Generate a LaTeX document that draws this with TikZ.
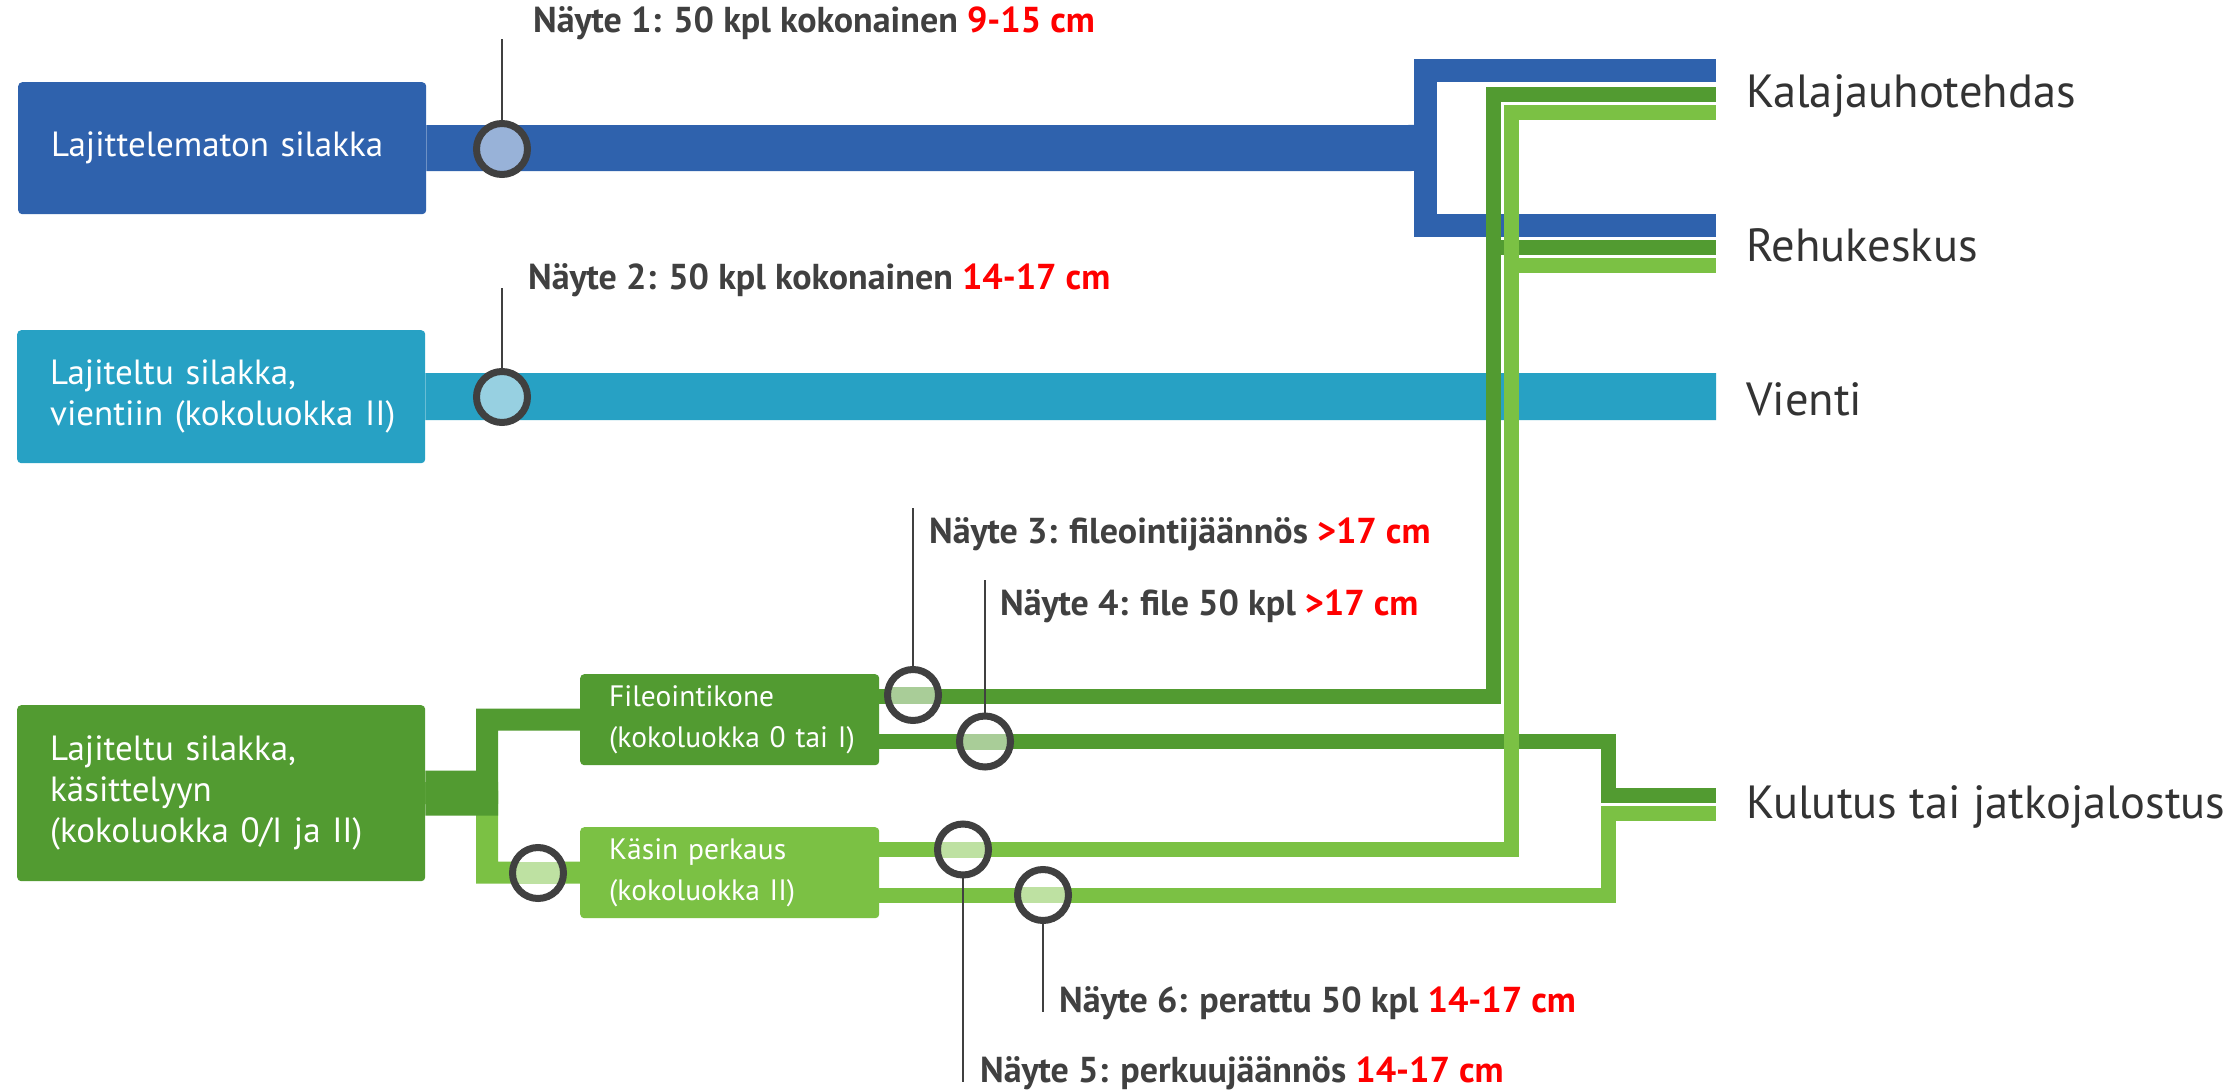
\documentclass[tikz,border=0pt]{standalone}
\usepackage{fontspec}
\setmainfont{PT Sans}
\usetikzlibrary{calc}
\definecolor{cblue}{HTML}{2F62AD}
\definecolor{cblueL}{HTML}{98B2D8}
\definecolor{cteal}{HTML}{27A1C4}
\definecolor{ctealL}{HTML}{97D0E1}
\definecolor{cdg}{HTML}{529B31}
\definecolor{cdgL}{HTML}{A9CD98}
\definecolor{clg}{HTML}{7BC144}
\definecolor{clgL}{HTML}{BEE1A2}
\definecolor{cring}{HTML}{404040}
\definecolor{ctxt}{HTML}{333333}
\definecolor{cred}{HTML}{FF0000}
\newcommand{\rd}[1]{\textcolor{cred}{#1}}
\begin{document}
\begin{tikzpicture}[x=1pt,y=-1pt,
  bigbox/.style={rounded corners=4pt, inner xsep=33pt, inner ysep=0pt, align=left,
    text=white, anchor=north west, text width=342pt, font=\fontsize{35}{41}\selectfont},
  smallbox/.style={rounded corners=4pt, inner xsep=29pt, inner ysep=0pt, align=left,
    text=white, anchor=north west, text width=241pt, font=\fontsize{29.5}{41}\selectfont},
  smp/.style={circle, draw=cring, line width=7pt, minimum size=51pt, inner sep=0pt},
  band/.style 2 args={fill=white, path picture={\fill[#1] ([yshift=-#2]path picture bounding box.west) rectangle ([yshift=#2]path picture bounding box.east);}},
  leader/.style={draw=cring, line width=2.5pt},
  lbl/.style={anchor=base west, inner sep=0pt, text=cring, font=\fontsize{36}{40}\selectfont\bfseries},
  dest/.style={anchor=base west, inner sep=0pt, text=ctxt, font=\fontsize{46.5}{50}\selectfont},
]
\useasboundingbox (0,0) rectangle (2240,1091);
\fill[white] (0,0) rectangle (2240,1091);

% boxes
\node[bigbox, fill=cblue, minimum height=132pt] (b1) at (18,82) {\mbox{Lajittelematon silakka}};
\node[bigbox, fill=cteal, minimum height=133pt] (b2) at (17,330) {\mbox{Lajiteltu silakka,}\\\mbox{vientiin (kokoluokka II)}};
\node[bigbox, fill=cdg, minimum height=176pt] (b3) at (17,705) {\mbox{Lajiteltu silakka,}\\\mbox{käsittelyyn}\\\mbox{(kokoluokka 0/I ja II)}};
\node[smallbox, fill=cdg, minimum height=91pt] (fil) at (580,674) {\mbox{Fileointikone}\\\mbox{(kokoluokka 0 tai I)}};
\node[smallbox, fill=clg, minimum height=91pt] (kas) at (580,827) {\mbox{Käsin perkaus}\\\mbox{(kokoluokka II)}};

% destinations
\node[dest] (kal) at (1746,108) {Kalajauhotehdas};
\node[dest] (reh) at (1746,262) {Rehukeskus};
\node[dest] (vie) at (1746,415) {Vienti};
\node[dest] (kul) at (1746,818) {Kulutus tai jatkojalostus};

% line end points and turn points
\coordinate (kalB) at (1716,71);
\coordinate (kalD) at (1716,94.5);
\coordinate (kalL) at (1716,112.5);
\coordinate (rehB) at (1716,225.5);
\coordinate (rehD) at (1716,247.5);
\coordinate (rehL) at (1716,265.5);
\coordinate (vieB) at (1716,396.5);
\coordinate (kulD) at (1716,795.5);
\coordinate (kulL) at (1716,813.5);
\coordinate (tF1) at (1493,696.5);
\coordinate (tF2) at (1608,741.5);
\coordinate (tL1) at (1511,849.5);
\coordinate (tL2) at (1608,895);
\coordinate (tS) at (487,793);

% blue
\draw[cblue, line width=46pt] (b1.east) -- (1420,148);
\draw[cblue, line width=23pt] (kalB) -- (1425,71) -- (1425,225.5) -- (rehB);
% teal
\draw[cteal, line width=47pt] (b2.east) -- (vieB);

% green split at b3
\draw[clg, line width=22pt] (b3.east) -- (tS) -- (tS |- kas.west) -- (kas.west);
\draw[cdg, line width=22pt] (b3.east) -- (tS) -- (tS |- fil.west) -- (fil.west);
\draw[cdg, line width=45pt] (b3.east) -- (498,793);

% dark green outputs
\draw[cdg, line width=15pt] (fil.east |- tF1) -- (tF1) -- (tF1 |- kalD) -- (kalD);
\draw[cdg, line width=15pt] (tF1 |- rehD) -- (rehD);
\draw[cdg, line width=15pt] (fil.east |- tF2) -- (tF2) -- (tF2 |- kulD) -- (kulD);
% light green outputs
\draw[clg, line width=15pt] (kas.east |- tL1) -- (tL1) -- (tL1 |- kalL) -- (kalL);
\draw[clg, line width=15pt] (tL1 |- rehL) -- (rehL);
\draw[clg, line width=15pt] (kas.east |- tL2) -- (tL2) -- (tL2 |- kulL) -- (kulL);

% leader ends
\coordinate (l1) at (502,39);
\coordinate (l2) at (502,288);
\coordinate (l3) at (913,508);
\coordinate (l4) at (985,580);
\coordinate (l5) at (963,1082);
\coordinate (l6) at (1043,1012);

\draw[leader] (502,149) -- (l1);
\draw[leader] (502,397) -- (l2);
\draw[leader] (913,695) -- (l3);
\draw[leader] (985,741.5) -- (l4);
\draw[leader] (963,849.5) -- (l5);
\draw[leader] (1043,895) -- (l6);

% sample circles
\node[smp, fill=cblueL] (c1) at (502,149) {};
\node[smp, fill=ctealL] (c2) at (502,397) {};
\node[smp, band={cdgL}{8.5pt}] (c3) at (913,695) {};
\node[smp, band={cdgL}{8pt}] (c4) at (985,741.5) {};
\node[smp, band={clgL}{8pt}] (c5) at (963,849.5) {};
\node[smp, band={clgL}{8pt}] (c6) at (1043,895) {};
\node[smp, band={clgL}{11pt}] (c7) at (538,873) {};

% labels
\node[lbl] (t1) at (533,33) {Näyte 1: 50 kpl kokonainen \rd{9-15 cm}};
\node[lbl] (t2) at (528,290) {Näyte 2: 50 kpl kokonainen \rd{14-17 cm}};
\node[lbl] (t3) at (929,543) {Näyte 3: fileointijäännös \rd{>17 cm}};
\node[lbl] (t4) at (1000,615) {Näyte 4: file 50 kpl \rd{>17 cm}};
\node[lbl] (t5) at (980,1082) {Näyte 5: perkuujäännös \rd{14-17 cm}};
\node[lbl] (t6) at (1059,1012) {Näyte 6: perattu 50 kpl \rd{14-17 cm}};
\end{tikzpicture}
\end{document}
